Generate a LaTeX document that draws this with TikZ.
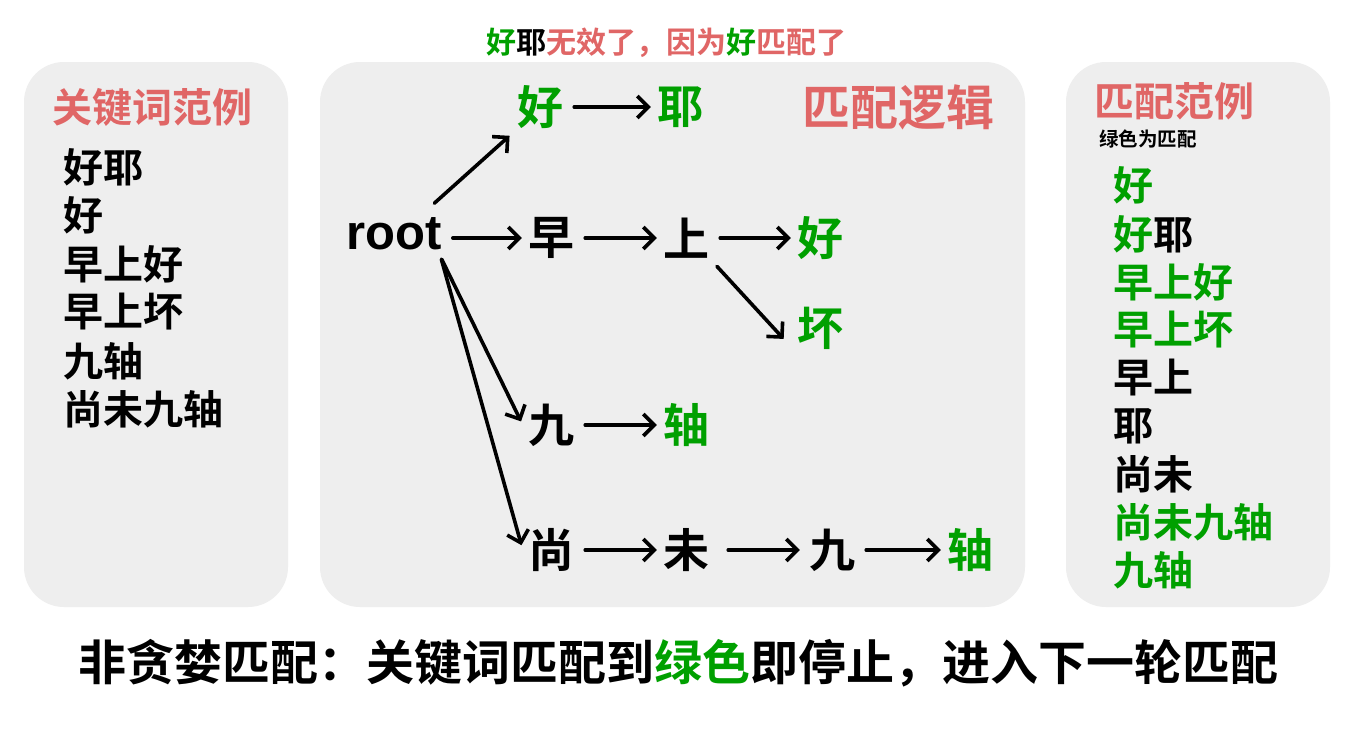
\documentclass[tikz,border=0pt]{standalone}
\usepackage{fontspec}
\usetikzlibrary{arrows.meta}
\newfontfamily\cjk{Noto Sans CJK SC}[UprightFont=* Bold]
\newfontfamily\latb{Liberation Sans}[UprightFont=* Bold]
\definecolor{gr}{HTML}{00A000}
\definecolor{rd}{HTML}{E06666}
\definecolor{pan}{HTML}{EEEEEE}
\tikzset{
  panel/.style={fill=pan, rounded corners=40pt},
  big/.style={font=\cjk\fontsize{46}{50}\selectfont, inner sep=5pt},
  lst/.style={font=\cjk\fontsize{40}{44}\selectfont, inner sep=0pt, anchor=west},
  ttl/.style={font=\cjk\fontsize{40}{44}\selectfont, text=rd, inner sep=0pt},
  arr/.style={line width=3.6pt, line cap=round, line join=round, -{Straight Barb[length=11pt,width=22pt]}, shorten <=6pt, shorten >=1pt},
}
\begin{document}
\begin{tikzpicture}[x=1pt,y=-1pt]
\useasboundingbox[fill=white] (0,0) rectangle (1356,728);
% panels
\fill[panel] (24,62) rectangle (288,607);
\fill[panel] (320,62) rectangle (1025,607);
\fill[panel] (1066,62) rectangle (1330,607);
% caption
\node[font=\cjk\fontsize{30}{32}\selectfont, inner sep=0pt] (cap) at (666,43) {\color{gr}好\color{black}耶\color{rd}无效了，因为\color{gr}好\color{rd}匹配了};
% left panel
\node[ttl] (lt) at (152,107) {关键词范例};
\node[lst] (l1) at (63,167) {好耶};
\node[lst] (l2) at (63,215) {好};
\node[lst] (l3) at (63,264) {早上好};
\node[lst] (l4) at (63,312) {早上坏};
\node[lst] (l5) at (63,361) {九轴};
\node[lst] (l6) at (63,409) {尚未九轴};
% middle panel
\node[font=\cjk\fontsize{48}{52}\selectfont, text=rd, inner sep=0pt] (mt) at (898,107) {匹配逻辑};
\node[font=\latb\fontsize{49}{52}\selectfont, inner sep=5pt] (root) at (394,234) {root};
\node[big, text=gr] (hA) at (540,107) {好};
\node[big, text=gr] (yA) at (680,107) {耶};
\node[big] (zao) at (551,238) {早};
\node[big] (shang) at (686,238) {上};
\node[big, text=gr] (hB) at (820,238) {好};
\node[big, text=gr] (huai) at (820,328) {坏};
\node[big] (jiuA) at (551,425) {九};
\node[big, text=gr] (zhouA) at (686,425) {轴};
\node[big] (shangB) at (551,550) {尚};
\node[big] (wei) at (686,550) {未};
\node[big] (jiuB) at (832,550) {九};
\node[big, text=gr] (zhouB) at (970,550) {轴};
\draw[arr, shorten <=2pt, shorten >=3pt] (root.north east) ++(-14,-8) coordinate (rs) -- (hA.south west);
\draw[arr] (hA.east) -- (yA.west);
\draw[arr] (root.east |- zao.west) -- (zao.west);
\draw[arr] (zao.east) -- (shang.west);
\draw[arr] (shang.east) -- (hB.west);
\draw[arr, shorten <=4pt, shorten >=12pt] (shang.south east) -- (huai.215);
\draw[arr, shorten <=2pt, shorten >=4pt] (root.south east) ++(-6,2) coordinate (rb) -- (jiuA.west);
\draw[arr, shorten <=2pt, shorten >=5pt] (rb) -- (shangB.west);
\draw[arr] (jiuA.east) -- (zhouA.west);
\draw[arr] (shangB.east) -- (wei.west);
\draw[arr, shorten <=14pt, shorten >=4pt] (wei.east) -- (jiuB.west);
\draw[arr] (jiuB.east) -- (zhouB.west);
% right panel
\node[ttl] (rt) at (1174,101) {匹配范例};
\node[font=\cjk\fontsize{19.5}{22}\selectfont, inner sep=0pt, anchor=west] (rsub) at (1099,139) {绿色为匹配};
\node[lst, text=gr] (r1) at (1113,185) {好};
\node[lst] (r2) at (1113,234) {\color{gr}好\color{black}耶};
\node[lst, text=gr] (r3) at (1113,282) {早上好};
\node[lst, text=gr] (r4) at (1113,330) {早上坏};
\node[lst] (r5) at (1113,378) {早上};
\node[lst] (r6) at (1113,426) {耶};
\node[lst] (r7) at (1113,474) {尚未};
\node[lst, text=gr] (r8) at (1113,522) {尚未九轴};
\node[lst, text=gr] (r9) at (1113,570) {九轴};
% bottom
\node[font=\cjk\fontsize{48}{52}\selectfont, inner sep=0pt] (bot) at (678,663) {非贪婪匹配：关键词匹配到\color{gr}绿色\color{black}即停止，进入下一轮匹配};
\end{tikzpicture}
\end{document}
